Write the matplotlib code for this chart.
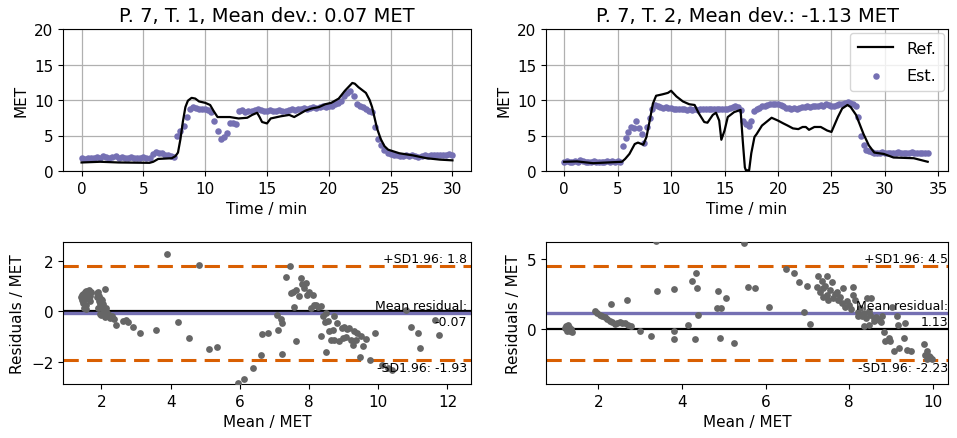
import numpy as np
import matplotlib
matplotlib.use("Agg")
import matplotlib.pyplot as plt

# ---------------- data ----------------
SAMPLE_STEP = 0.25  # minutes between estimator outputs

# Trial 1: estimated MET, one value per sample
est_t1 = [
    1.8, 1.7, 1.9, 1.8, 1.9, 2.0, 1.9, 2.1,
    2.0, 1.9, 2.0, 2.1, 1.9, 2.0, 1.8, 1.9,
    2.0, 1.9, 1.8, 1.9, 2.0, 1.9, 1.8, 2.4,
    2.7, 2.6, 2.5, 2.3, 2.2, 2.1, 2.0, 5.0,
    5.6, 6.4, 7.6, 8.8, 9.0, 8.9, 8.8, 8.7,
    8.8, 8.6, 8.3, 7.0, 5.7, 4.5, 4.8, 5.3,
    6.8, 6.7, 6.6, 8.4, 8.6, 8.3, 8.5, 8.4,
    8.6, 8.7, 8.6, 8.5, 8.5, 8.6, 8.4, 8.5,
    8.6, 8.4, 8.5, 8.6, 8.7, 8.6, 8.8, 8.8,
    8.9, 8.8, 8.9, 9.0, 8.9, 9.0, 9.1, 9.0,
    9.1, 9.2, 9.4, 9.6, 9.8, 10.6, 11.0, 11.3,
    10.6, 9.4, 9.2, 9.0, 8.8, 8.5, 8.3, 6.2,
    4.5, 3.6, 3.0, 2.6, 2.4, 2.3, 2.2, 2.1,
    2.1, 2.2, 2.1, 2.2, 2.1, 2.0, 2.1, 2.2,
    2.1, 2.2, 2.3, 2.2, 2.3, 2.2, 2.3, 2.4,
    2.3,
]

# Trial 1: reference MET (time in min, value)
ref_t1_time = [0.0, 1.5, 3.0, 5.5, 5.8, 6.2, 7.3, 7.6, 7.8, 8.0, 8.2, 8.4, 8.6,
               8.9, 9.2, 9.5, 10.0, 10.4, 10.7, 11.0, 12.0, 12.7, 13.4, 13.8,
               14.2, 14.4, 14.6, 15.0, 15.3, 16.1, 16.8, 17.2, 17.6, 18.1, 18.6,
               19.2, 19.7, 20.2, 20.8, 21.3, 21.9, 22.1, 22.4, 23.0, 23.3, 23.5,
               23.7, 23.9, 24.2, 24.5, 24.8, 25.7, 26.8, 27.9, 29.0, 30.0]
ref_t1_met = [1.2, 1.3, 1.2, 1.15, 1.3, 1.7, 1.8, 2.1, 2.6, 4.5, 7.0, 9.0, 9.9,
              10.3, 10.2, 9.8, 9.6, 9.3, 8.4, 7.6, 7.6, 7.4, 7.5, 7.9,
              8.2, 7.6, 6.9, 6.7, 7.4, 7.7, 7.9, 7.6, 8.0, 8.5, 8.8,
              9.0, 9.4, 9.6, 10.2, 11.3, 12.4, 12.3, 11.8, 11.0, 10.0, 9.0,
              7.5, 6.0, 4.5, 3.5, 3.0, 2.5, 2.2, 1.8, 1.6, 1.5]

# Trial 2: estimated MET, one value per sample
est_t2 = [
    1.3, 1.4, 1.3, 1.2, 1.4, 1.3, 1.5, 1.4,
    1.3, 1.2, 1.3, 1.4, 1.3, 1.3, 1.2, 1.3,
    1.4, 1.3, 1.4, 1.3, 1.4, 1.3, 3.5, 4.6,
    5.5, 6.2, 6.1, 7.1, 6.0, 5.2, 4.0, 6.2,
    7.4, 8.7, 9.3, 9.1, 9.0, 8.9, 9.0, 8.9,
    8.9, 8.8, 8.8, 8.7, 8.8, 8.7, 8.6, 8.7,
    8.6, 8.7, 8.6, 8.7, 8.7, 8.8, 8.7, 8.8,
    8.7, 8.8, 8.7, 8.8, 8.7, 8.8, 8.9, 9.0,
    9.2, 9.0, 8.6, 7.0, 6.6, 6.4, 7.0, 8.5,
    8.7, 8.9, 9.1, 9.2, 9.3, 9.4, 9.5, 9.5,
    9.4, 9.3, 9.1, 8.9, 8.9, 8.8, 8.9, 8.8,
    8.9, 9.0, 9.0, 9.1, 9.0, 9.2, 9.1, 9.2,
    9.3, 9.2, 9.4, 9.3, 9.2, 9.1, 9.3, 9.4,
    9.5, 9.6, 9.7, 9.6, 9.5, 9.2, 7.6, 5.0,
    3.6, 3.0, 2.8, 2.7, 2.6, 2.5, 2.6, 2.7,
    2.6, 2.6, 2.5, 2.6, 2.6, 2.7, 2.6, 2.5,
    2.6, 2.6, 2.7, 2.6, 2.6, 2.5, 2.6, 2.6,
    2.6,
]

# Trial 2: reference MET (time in min, value)
ref_t2_time = [0.0, 1.2, 2.7, 5.4, 5.7, 6.1, 6.6, 6.9, 7.4, 7.7, 8.0, 8.3, 8.6,
               9.2, 9.7, 10.0, 10.5, 11.1, 11.7, 12.2, 12.6, 13.1, 13.4, 13.9,
               14.2, 14.5, 14.7, 15.0, 15.3, 15.9, 16.5, 16.7, 16.9, 17.0, 17.3,
               17.5, 17.8, 18.0, 18.5, 19.4, 20.0, 20.5, 20.9, 21.4, 21.9, 22.3,
               22.6, 22.9, 23.4, 24.0, 24.6, 25.0, 25.6, 26.0, 26.5, 26.8, 27.3,
               28.0, 28.5, 29.0, 29.9, 30.8, 32.7, 34.0]
ref_t2_met = [1.3, 1.35, 1.1, 1.3, 1.7, 2.4, 3.8, 4.0, 3.7, 4.8, 7.1, 9.5, 10.6,
              10.8, 11.0, 11.3, 10.5, 9.8, 9.4, 9.3, 8.1, 6.9, 6.8, 7.9,
              8.2, 7.1, 4.4, 5.7, 7.6, 8.3, 8.6, 4.3, 0.5, 0.1, 0.1,
              2.5, 4.8, 5.2, 6.4, 7.5, 7.1, 6.7, 6.4, 6.0, 5.9, 6.2,
              6.2, 5.8, 6.2, 6.2, 5.7, 5.5, 7.6, 8.8, 9.3, 9.0, 7.9,
              5.2, 3.6, 2.6, 2.4, 1.9, 1.8, 1.3]

# Bland-Altman, trial 1: mean of both methods and residual
ba1_mean = [1.42, 1.44, 1.45, 1.47, 1.48, 1.50, 1.52, 1.53, 1.55, 1.56, 1.58, 1.60,
            1.62, 1.63, 1.65, 1.66, 1.68, 1.50, 1.55, 1.70,
            1.86, 1.88, 1.90, 1.92, 1.94, 1.96, 1.98, 2.00, 2.02, 2.04, 2.06, 2.08,
            2.10, 2.12, 2.14, 1.90,
            1.95, 2.00, 2.05, 2.10, 2.15, 2.20, 2.25, 2.30, 2.43, 2.35,
            2.63, 2.72, 2.78, 2.92, 3.11, 3.58, 3.89, 4.20, 4.54, 4.81, 5.11, 5.33,
            5.96, 6.13, 6.38, 6.62, 6.63, 6.81,
            7.06, 7.10, 7.20, 7.23, 7.21, 7.34, 7.45, 7.47, 7.55, 7.57, 7.61, 7.61,
            7.71, 7.76, 7.80, 7.86, 7.90, 7.95, 8.00, 8.05, 8.10, 8.13, 8.19, 8.27,
            8.34, 8.34, 8.40, 8.45, 8.48, 8.50, 8.55, 8.59, 8.64, 8.68, 8.72, 8.72,
            8.80, 8.87, 8.94, 8.99, 9.01, 9.06, 9.10, 9.16, 9.20, 9.26, 9.30, 9.35,
            9.40, 9.46, 9.50, 9.55, 9.64, 9.75, 9.91, 10.11, 10.27, 10.40, 10.80,
            10.95, 11.15, 11.20, 11.65, 11.75]
ba1_resid = [0.55, 0.65, 0.45, 0.70, 0.35, 0.60, 0.75, 0.50, 0.80, 0.25, 0.65, 0.82,
             0.55, 0.72, 0.85, 0.40, 0.62, 0.15, 0.10, 0.75,
             0.72, 0.55, 0.78, 0.40, 0.62, 0.30, 0.50, 0.20, 0.45, 0.10, 0.30, 0.05,
             0.88, 0.00, 0.15, 0.15,
             -0.10, -0.15, -0.12, -0.22, -0.18, -0.10, -0.25, -0.20, -0.55, -0.30,
             -0.38, -0.36, -0.42, -0.64, -0.86, -0.75, 2.28, -0.43, -1.05, 1.82, -1.50, -1.42,
             -2.86, -2.67, -2.24, -1.72, -0.89, -0.86,
             -0.13, -0.75, -0.30, -0.46, -1.71, 1.38, 1.80, 0.72, 0.76, 0.17, 0.86, -1.16,
             0.59, 1.32, 1.10, 0.92, 1.14, 0.66, 0.75, 0.13, 0.66, 0.24, 0.26, 0.17,
             0.22, -0.96, -0.18, -0.42, -0.07, -1.61, -0.39, -0.79, -1.14, -0.72, -0.17, -1.12,
             -0.46, -1.16, -0.66, -1.05, -0.63, -1.01, -0.70, -0.66, -1.14, -1.32, -0.79, -1.12,
             -0.86, -1.80, -0.99, -1.38, -1.09, -1.93, -0.86, -2.13, -2.24, -2.33, 0.05,
             -0.62, -0.84, -1.47, -0.36, -0.95]

# Bland-Altman, trial 2
ba2_mean = [1.20, 1.24, 1.27, 1.30, 1.32, 1.35, 1.28, 1.36, 1.25,
            1.93, 1.98, 2.03, 2.09, 2.15, 2.21, 2.27, 2.33, 2.39, 2.45, 2.51, 2.57,
            2.63, 2.70, 2.78,
            2.31, 2.69, 3.00, 3.27, 3.38, 3.41, 3.80, 3.82, 3.82, 4.15, 4.24, 4.34,
            4.35, 4.39, 4.32, 4.83, 4.87, 4.93, 5.05, 4.92, 5.24, 5.49, 5.57, 5.75,
            6.07, 6.48, 6.68, 6.79, 6.99, 6.92, 7.07,
            7.22, 7.26, 7.30, 7.38, 7.38, 7.46, 7.46, 7.50, 7.54, 7.58, 7.62, 7.70,
            7.74, 7.82, 7.86, 7.90, 7.94, 7.35, 7.42, 7.66, 7.78,
            8.08, 8.10, 8.14, 8.26, 8.22, 8.34, 8.34, 8.42, 8.52, 8.46, 8.48, 8.58,
            8.70, 8.78, 8.84, 8.86, 8.94, 8.98, 9.02, 9.06, 9.14, 9.16, 9.18, 9.32,
            9.34, 9.38, 9.48, 9.78, 9.80, 9.86, 9.90, 9.94, 9.98, 9.86,
            8.20, 8.30, 8.40, 8.50, 8.60, 8.65, 8.75, 8.00, 8.05]
ba2_resid = [0.05, 0.20, -0.05, 0.12, -0.15, 0.02, 0.25, -0.20, -0.12,
             1.25, 1.15, 1.01, 0.92, 0.82, 0.70, 0.59, 0.47, 0.35, 0.45, 0.49, 0.45,
             0.42, 0.30, 0.19,
             1.77, 2.03, -0.12, -0.54, 6.30, 2.71, 2.83, -0.12, -0.73, 0.26, 3.46, 4.00,
             2.90, 0.97, -0.71, 1.48, 2.71, 1.51, 2.19, -0.64, -1.01, 6.12, 2.97, 2.90,
             1.55, 4.31, 4.03, 3.37, 3.09, 1.20, 0.35,
             3.02, 3.77, 2.66, 2.90, 2.31, 3.77, 2.43, 2.07, 2.78, 3.37, 2.19, 2.66,
             2.07, 1.84, 2.90, 1.60, 1.96, 3.40, 3.10, 2.50, 2.30,
             2.43, 3.02, 2.07, 1.48, 0.90, 1.13, 0.19, 2.19, 2.24, 1.25, 0.31, 0.78,
             0.66, 0.90, -0.21, -0.87, -0.64, -0.87, 1.60, -1.58, 0.90, 0.31, -1.34, -0.66,
             0.42, -1.51, -1.58, -1.06, -1.88, -1.58, -1.93, -2.05, -2.17, -2.17,
             1.20, 0.95, 0.75, 1.00, 0.55, 0.85, 0.50, 1.70, 1.40]

# Summary statistics printed on the panels
trials = ["P. 7, T. 1", "P. 7, T. 2"]
mean_dev = [0.07, -1.13]
mean_resid = [-0.07, 1.13]
sd_upper = [1.8, 4.5]
sd_lower = [-1.93, -2.23]

# ---------------- style ----------------
PURPLE = "#7570b3"
ORANGE = "#d95f02"
GREY = "#666666"

plt.rcParams["font.family"] = ["DejaVu Sans"]

W, H = 957, 439
fig = plt.figure(figsize=(W / 100, H / 100), dpi=100)


def box(left, top, right, bottom):
    return [left / W, 1 - bottom / H, (right - left) / W, (bottom - top) / H]


ax_ts = [fig.add_axes(box(63, 30, 471, 172)), fig.add_axes(box(546, 30, 948, 172))]
ax_ba = [fig.add_axes(box(63, 243, 471, 385)), fig.add_axes(box(546, 243, 948, 385))]

series = [
    (est_t1, ref_t1_time, ref_t1_met, ba1_mean, ba1_resid, (-1.5, 31.5), (0.89, 12.68),
     [2, 4, 6, 8, 10, 12], [-2, 0, 2], 0.99),
    (est_t2, ref_t2_time, ref_t2_met, ba2_mean, ba2_resid, (-1.7, 35.9), (0.75, 10.36),
     [2, 4, 6, 8, 10], [0, 5], 1.0),
]

for i, (est, rt, rv, bm, br, xl_ts, xl_ba, bxt, byt, tx) in enumerate(series):
    ax = ax_ts[i]
    t_est = np.arange(len(est)) * SAMPLE_STEP
    ax.grid(True, color="#b0b0b0", lw=0.9)
    ax.set_axisbelow(True)
    ax.scatter(t_est, est, s=22, color=PURPLE, lw=0, label="Est.", zorder=2)
    ax.plot(rt, rv, color="black", lw=1.6, label="Ref.", zorder=3)
    ax.set_xlim(*xl_ts)
    ax.set_ylim(0, 20)
    ax.set_yticks([0, 5, 10, 15, 20])
    ax.set_xlabel("Time / min", fontsize=11)
    ax.set_ylabel("MET", fontsize=11)
    ax.set_title(f"{trials[i]}, Mean dev.: {mean_dev[i]:.2f} MET", fontsize=14)
    ax.tick_params(labelsize=11)
    if i == 1:
        h, l = ax.get_legend_handles_labels()
        ax.legend([h[1], h[0]], [l[1], l[0]], loc="upper right", fontsize=11.5,
                  handlelength=2.2, labelspacing=0.75, borderpad=0.5,
                  borderaxespad=0.25)

    # Bland-Altman panel
    ax = ax_ba[i]
    sd = (sd_upper[i] - sd_lower[i]) / (2 * 1.96)
    ax.axhline(0, color="black", lw=1.6, zorder=2)
    ax.axhline(mean_resid[i], color=PURPLE, lw=2.4, zorder=2)
    for lvl in (sd_upper[i], sd_lower[i]):
        ax.axhline(lvl, color=ORANGE, lw=2.2, ls=(0, (5, 2.7)), zorder=2)
    ax.scatter(bm, br, s=24, color=GREY, lw=0, zorder=3)
    ax.set_xlim(*xl_ba)
    ax.set_ylim(sd_lower[i] - sd, sd_upper[i] + sd)
    ax.set_xticks(bxt)
    ax.set_yticks(byt)
    ax.set_xlabel("Mean / MET", fontsize=11)
    ax.set_ylabel("Residuals / MET", fontsize=11)
    ax.tick_params(labelsize=11)
    trans = ax.get_yaxis_transform()
    ax.text(tx, sd_upper[i] + 0.06 * sd, f"+SD1.96: {sd_upper[i]:g}", transform=trans,
            ha="right", va="bottom", fontsize=9, zorder=4)
    ax.text(tx, sd_lower[i] - 0.06 * sd, f"-SD1.96: {sd_lower[i]:g}", transform=trans,
            ha="right", va="top", fontsize=9, zorder=4)
    ax.text(tx, mean_resid[i], f"Mean residual:\n{mean_resid[i]:.2f}", transform=trans,
            ha="right", va="center", fontsize=9, zorder=4, linespacing=1.3)

fig.savefig("out.png", dpi=100)
